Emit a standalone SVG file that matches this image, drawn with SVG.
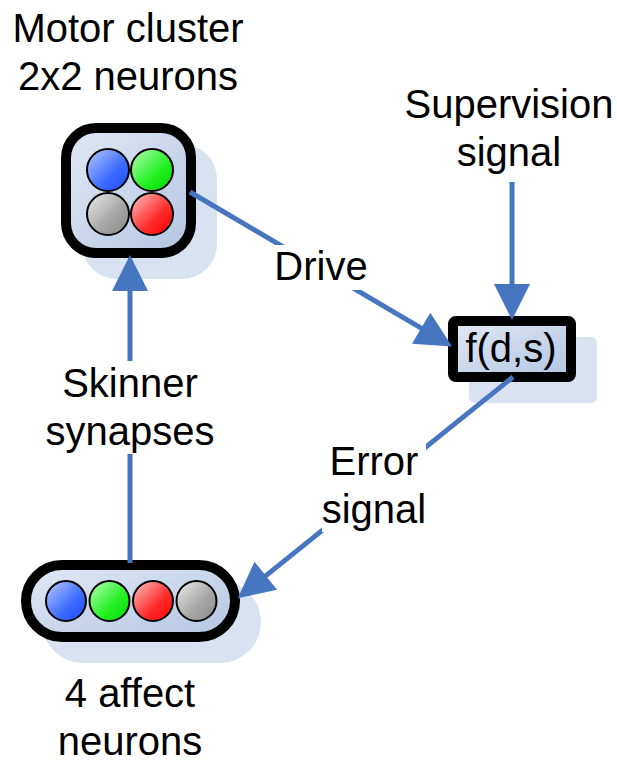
<svg xmlns="http://www.w3.org/2000/svg" width="617" height="763" viewBox="0 0 617 763">
<style>
.lbl{font-family:"Liberation Sans",Arial,sans-serif;font-size:40px;fill:#000;text-anchor:middle}
.shadow{fill:#d9e2f1}
.box{fill:url(#nodeFill);stroke:#000;stroke-width:10}
.cir{stroke:#000;stroke-width:2}
.conn{fill:none;stroke:#4676c0;stroke-width:5;marker-end:url(#ah)}
.bg{fill:#fff}
</style>
<defs>
<linearGradient id="nodeFill" x1="0" y1="0" x2="1" y2="1"><stop offset="0" stop-color="#e2e9f5"/><stop offset="1" stop-color="#b2c5e2"/></linearGradient>
<linearGradient id="gBlue" x1="0" y1="0" x2="1" y2="1"><stop offset="0" stop-color="#b8ccff"/><stop offset="0.6" stop-color="#3d6bff"/><stop offset="1" stop-color="#1a4cff"/></linearGradient>
<linearGradient id="gGreen" x1="0" y1="0" x2="1" y2="1"><stop offset="0" stop-color="#b8ffb8"/><stop offset="0.6" stop-color="#22f022"/><stop offset="1" stop-color="#00dd00"/></linearGradient>
<linearGradient id="gRed" x1="0" y1="0" x2="1" y2="1"><stop offset="0" stop-color="#ffc4c4"/><stop offset="0.6" stop-color="#ff2a2a"/><stop offset="1" stop-color="#ff0000"/></linearGradient>
<linearGradient id="gGray" x1="0" y1="0" x2="1" y2="1"><stop offset="0" stop-color="#ececec"/><stop offset="0.6" stop-color="#a4a4a4"/><stop offset="1" stop-color="#8a8a8a"/></linearGradient>
<marker id="ah" markerUnits="userSpaceOnUse" markerWidth="36" markerHeight="36" refX="1" refY="18" orient="auto" overflow="visible"><path d="M0,0 L36,18 L0,36 z" fill="#4676c0"/></marker>
</defs>

<g id="motor-cluster">
<rect class="shadow" x="82" y="144" width="135" height="135" rx="35"/>
<rect class="box" x="66" y="128" width="125" height="125" rx="30"/>
<circle class="cir" cx="108" cy="170" r="21" fill="url(#gBlue)"/>
<circle class="cir" cx="152" cy="170" r="21" fill="url(#gGreen)"/>
<circle class="cir" cx="108" cy="214" r="21" fill="url(#gGray)"/>
<circle class="cir" cx="152" cy="214" r="21" fill="url(#gRed)"/>
<text class="lbl" x="128" y="42">Motor cluster</text>
<text class="lbl" x="128" y="90">2x2 neurons</text>
</g>

<g id="supervision-fn">
<rect class="shadow" x="469" y="337" width="128" height="66" rx="6"/>
<rect class="box" x="453" y="321" width="118" height="56" rx="3"/>
<text class="lbl" x="511" y="362">f(d,s)</text>
</g>

<g id="supervision-signal">
<text class="lbl" x="509" y="118">Supervision</text>
<text class="lbl" x="509" y="166">signal</text>
</g>

<g id="affect-neurons">
<rect class="shadow" x="42" y="581" width="219" height="82" rx="41"/>
<rect class="box" x="26" y="565" width="209" height="72" rx="36"/>
<circle class="cir" cx="66" cy="601" r="20" fill="url(#gBlue)"/>
<circle class="cir" cx="109.5" cy="601" r="20" fill="url(#gGreen)"/>
<circle class="cir" cx="153" cy="601" r="20" fill="url(#gRed)"/>
<circle class="cir" cx="196.5" cy="601" r="20" fill="url(#gGray)"/>
<text class="lbl" x="130" y="707">4 affect</text>
<text class="lbl" x="130" y="755">neurons</text>
</g>

<g id="connectors">
<path class="conn" d="M190,192 L422,328.7"/>
<path class="conn" d="M512,182 L512,285"/>
<path class="conn" d="M513,377 L265,576.4"/>
<path class="conn" d="M130,563 L130,290"/>
<rect class="bg" x="274" y="245" width="94" height="45"/>
<text class="lbl" x="321" y="280">Drive</text>
<rect class="bg" x="322" y="439" width="104" height="93"/>
<text class="lbl" x="374" y="475">Error</text>
<text class="lbl" x="374" y="523">signal</text>
<rect class="bg" x="46" y="361" width="168" height="93"/>
<text class="lbl" x="130" y="397">Skinner</text>
<text class="lbl" x="130" y="445">synapses</text>
</g>
</svg>
